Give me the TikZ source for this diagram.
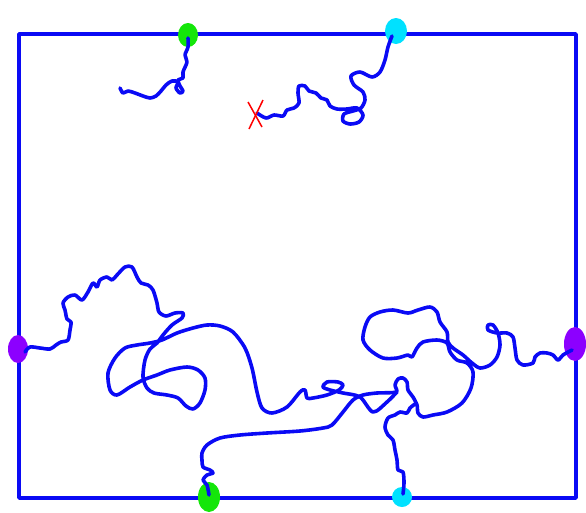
\documentclass[tikz,border=0pt]{standalone}
\usepackage{tikz}

\definecolor{penblue}{RGB}{10,10,245}
\definecolor{pengreen}{RGB}{20,230,10}
\definecolor{pencyan}{RGB}{0,225,255}
\definecolor{penpurple}{RGB}{140,0,255}

\begin{document}
\begin{tikzpicture}[x=1pt,y=-1pt,
		strand/.style={draw=penblue,line width=3.6pt,line cap=round,line join=round},
		blob/.style={fill=#1,draw=none}]
				\useasboundingbox (0,0) rectangle (586,512);
				\draw[strand] (19,34) rectangle (576,498);
				
				% end points on the frame
				\fill[blob=pengreen] (188,35) ellipse (10 and 12);
				\fill[blob=pencyan] (396,31) ellipse (11 and 13);
				\fill[blob=penpurple] (18,349) ellipse (10 and 14);
				\fill[blob=penpurple] (575,344) ellipse (11 and 17);
				\fill[blob=pengreen] (209,497) ellipse (11 and 15);
				\fill[blob=pencyan] (402,497) ellipse (10 and 10);
				
				% top strands
				\draw[strand] plot[smooth,tension=0.5] coordinates {(188,38) (188,47) (185,55) (187,62) (183,72) (183,78) (178,80) (180,86) (183,91) (180,93) (176,88) (178,82) (172,81) (166,85) (161,91) (156,96) (150,98) (143,96) (135,93) (128,91) (123,93) (120,88)};
				\draw[strand] plot[smooth,tension=0.5] coordinates {(392,36) (388,47) (385,60) (380,72) (372,77) (360,72) (351,76) (354,85) (363,92) (365,100) (361,108) (353,111) (344,114) (343,121) (350,124) (359,122) (363,115) (357,108) (347,109) (337,109) (330,106) (327,100) (321,98) (316,93) (309,91) (305,86) (299,86) (298,93) (299,103) (294,108) (287,110) (283,116) (274,115) (266,118) (257,113)};
				\draw[red,line width=1.5pt] (248,102) -- (262,127);
				\draw[red,line width=1.5pt] (263,100) -- (249,129);
				
				% left strand
				\draw[strand] plot[smooth,tension=0.5] coordinates {(25,352) (30,347) (40,348) (50,349) (56,345) (61,342) (68,340) (70,330) (71,322) (67,319) (65,310) (63,303) (68,297) (75,295) (82,300) (88,292) (93,283) (97,287) (100,280) (107,277) (112,280) (117,275) (125,267) (132,267) (137,277) (141,283) (148,285) (153,290) (157,303) (159,312) (166,316) (175,313) (183,313) (182,318) (172,325) (163,335) (157,343) (150,349) (145,360) (143,377) (147,388) (154,393) (167,395) (178,398) (186,406) (193,409) (200,403) (205,390) (205,378) (198,370) (187,367) (170,370) (157,375) (143,380) (130,387) (117,395) (110,390) (108,373) (115,358) (125,348) (137,345) (150,343) (162,340) (177,333) (193,328) (207,325) (220,326) (233,332) (245,348) (252,368) (257,392) (262,408) (272,413) (287,407) (300,392) (305,390) (307,398) (313,398) (327,395) (339,390) (343,385) (338,382) (327,382) (323,387) (330,390) (343,393) (360,397) (373,412) (387,402) (397,392)};
				
				% bottom strands
				\draw[strand] plot[smooth,tension=0.5] coordinates {(209,495) (207,485) (203,480) (207,475) (213,473) (210,470) (203,467) (202,460) (202,453) (207,445) (220,438) (240,435) (267,433) (300,431) (323,428) (332,425) (343,412) (353,400) (363,395) (377,393) (396,392) (395,385) (398,379) (403,378) (407,382) (408,390) (413,397) (417,405) (418,413) (423,417) (433,415) (447,412) (462,403) (471,388) (473,372) (467,363) (457,360) (450,352) (447,343) (437,340) (423,342) (417,348) (412,357) (408,355) (397,358) (383,358) (370,350) (363,340) (365,327) (370,317) (380,312) (393,310) (408,313) (418,310) (430,307) (437,312) (440,322) (447,332) (448,342) (453,348) (463,355) (472,363) (480,368) (490,365) (497,357) (500,345) (498,333) (493,325) (488,325) (488,330) (497,333) (507,333) (513,337) (515,348) (517,360) (523,365) (533,363) (535,357) (540,353) (547,353) (553,355) (558,360) (563,355) (572,350)};
				\draw[strand] plot[smooth,tension=0.5] coordinates {(415,404) (410,408) (407,413) (400,412) (395,415) (388,418) (385,427) (388,435) (393,440) (395,450) (397,460) (398,470) (403,472) (404,483) (403,494)};
				\end{tikzpicture}
\end{document}
